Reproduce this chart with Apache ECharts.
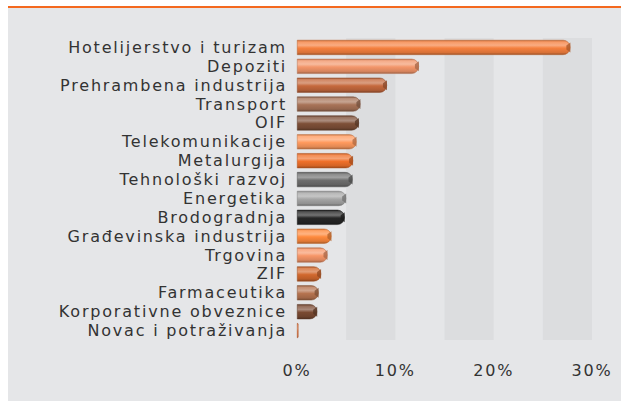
<!DOCTYPE html>
<html>
<head>
<meta charset="utf-8">
<script src="https://cdn.jsdelivr.net/npm/echarts@6.0.0/dist/echarts.min.js"></script>
<style>
    html, body { margin: 0; padding: 0; background: #fff; }
    #frame {
        position: absolute; left: 8px; top: 6px; width: 613px; height: 395px;
        border-top: 2px solid #f4691f; background: #e5e6e8; box-sizing: border-box;
    }
    #chart { position: absolute; left: 0; top: 0; width: 621px; height: 401px; }
    #chart text { letter-spacing: 1.8px; }
</style>
</head>
<body>
<div id="frame"></div>
<div id="chart"></div>
<script>
const categories = [
    'Hotelijerstvo i turizam', 'Depoziti', 'Prehrambena industrija', 'Transport', 'OIF',
    'Telekomunikacije', 'Metalurgija', 'Tehnološki razvoj', 'Energetika', 'Brodogradnja',
    'Građevinska industrija', 'Trgovina', 'ZIF', 'Farmaceutika', 'Korporativne obveznice',
    'Novac i potraživanja'
];
const values = [27.8, 12.4, 9.15, 6.45, 6.3, 6.05, 5.7, 5.65, 5.0, 4.85, 3.5, 3.1, 2.45, 2.2, 2.05, 0.15];
const tickLabels = [0, 10, 20, 30];

// base colour of each bar, top to bottom
const barColors = [
    '#f5803e', '#f3966a', '#c6693d', '#a87358', '#7e5038', '#ff9a5e', '#f0702a', '#6e6e6e',
    '#a5a5a5', '#262626', '#ff8a3d', '#f79668', '#d2692e', '#b5734f', '#7a4a32', '#e8743a'
];

function shade(hex, amt) {
    const n = parseInt(hex.slice(1), 16);
    let r = n >> 16, g = (n >> 8) & 255, b = n & 255;
    const f = c => amt >= 0 ? Math.round(c + (255 - c) * amt) : Math.round(c * (1 + amt));
    return 'rgb(' + f(r) + ',' + f(g) + ',' + f(b) + ')';
}

function glossy(c) {
    return new echarts.graphic.LinearGradient(0, 0, 0, 1, [
        { offset: 0, color: shade(c, -0.2) },
        { offset: 0.12, color: shade(c, 0.2) },
        { offset: 0.35, color: shade(c, 0.35) },
        { offset: 0.55, color: c },
        { offset: 0.85, color: shade(c, -0.12) },
        { offset: 1, color: shade(c, -0.35) }
    ]);
}

const chart = echarts.init(document.getElementById('chart'), null, { renderer: 'svg' });

chart.setOption({
    animation: false,
    grid: { left: 297, right: 29, top: 38, bottom: 61 },
    xAxis: {
        type: 'value',
        min: 0,
        max: 30,
        interval: 5,
        axisLine: { show: false },
        axisTick: { show: false },
        splitLine: { show: false },
        splitArea: { show: true, areaStyle: { color: ['rgba(0,0,0,0)', '#dcdddf'] } },
        axisLabel: {
            margin: 22,
            color: '#333',
            fontFamily: 'DejaVu Sans',
            fontSize: 16,
            formatter: v => tickLabels.indexOf(v) >= 0 ? v + '%' : ''
        }
    },
    yAxis: {
        type: 'category',
        data: categories,
        inverse: true,
        axisLine: { show: false },
        axisTick: { show: false },
        axisLabel: {
            interval: 0,
            margin: 10,
            color: '#333',
            fontFamily: 'DejaVu Sans',
            fontSize: 16
        }
    },
    series: [
        {
            type: 'bar',
            barWidth: 15,
            data: values.map((v, i) => ({
                value: v,
                itemStyle: {
                    color: glossy(barColors[i]),
                    borderColor: shade(barColors[i], -0.25),
                    borderWidth: 0.5,
                    borderRadius: [0, 7, 7, 0]
                }
            }))
        },
        {
            // little knot at the end of each balloon
            type: 'scatter',
            silent: true,
            symbol: 'path://M0,3 L4,0 L4,10 L0,7 Z',
            symbolSize: [4, 10],
            symbolOffset: [-2, 0],
            data: values.map((v, i) => ({
                value: [v, i],
                symbolSize: v < 1 ? 0 : [4, 10],
                itemStyle: { color: shade(barColors[i], -0.3) }
            })),
            z: 3
        }
    ]
});
</script>
</body>
</html>
